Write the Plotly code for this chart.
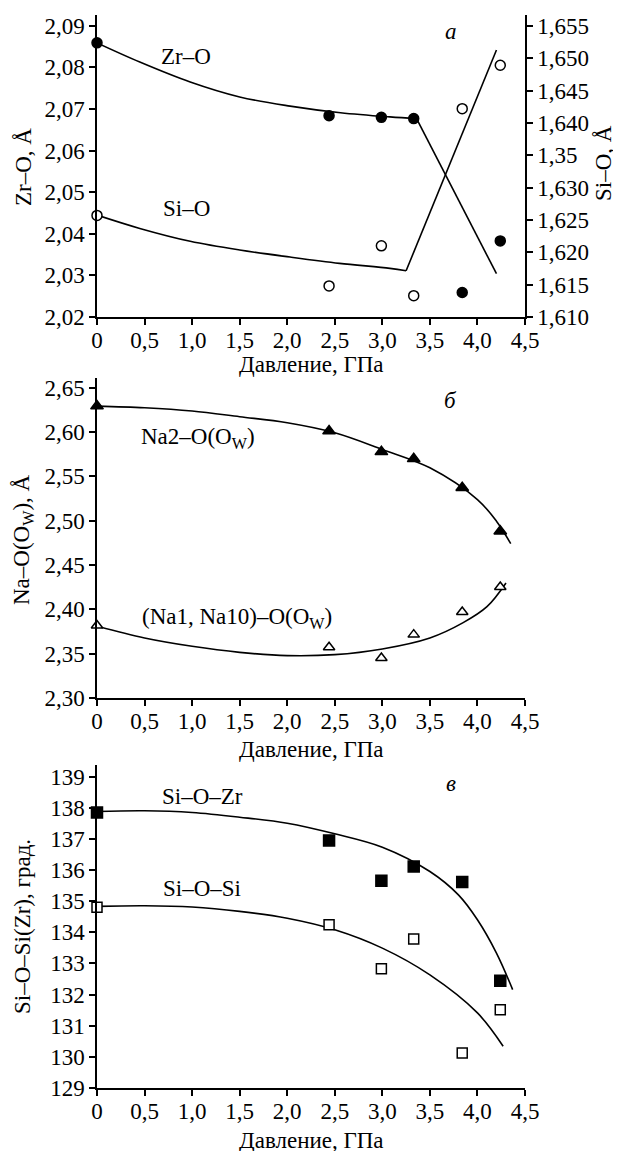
import plotly.graph_objects as go

W, H = 621, 1151
OFF = 8  # page body margin in the browser

# ---------------- data ----------------
pressure = [0, 2.44, 2.99, 3.33, 3.84, 4.24]

# panel a
zr_o = [2.0859, 2.0684, 2.0680, 2.0677, 2.0259, 2.0383]
si_o = [1.6257, 1.6148, 1.6210, 1.6133, 1.6422, 1.6489]
zr_curve_x = [0, 0.45, 0.98, 1.5, 2.03, 2.56, 3.08, 3.36]
zr_curve_y = [2.0859, 2.0813, 2.0765, 2.0729, 2.0707, 2.0691, 2.0681, 2.0677]
zr_line_x = [3.36, 4.2]
zr_line_y = [2.0677, 2.0304]
si_curve_x = [0, 0.45, 0.98, 1.5, 2.03, 2.55, 3.08, 3.25]
si_curve_y = [1.62575, 1.62369, 1.62170, 1.62035, 1.61926, 1.61829, 1.61752, 1.61714]
si_line_x = [3.25, 4.2]
si_line_y = [1.61714, 1.65127]

# panel b
na2 = [2.6293, 2.6011, 2.5777, 2.5698, 2.5371, 2.4882]
na1 = [2.3817, 2.3572, 2.3452, 2.3715, 2.3971, 2.4253]
na2_curve_x = [0, 0.5, 1.0, 1.5, 2.0, 2.5, 3.0, 3.5, 4.0, 4.2, 4.35]
na2_curve_y = [2.6293, 2.6274, 2.6237, 2.6173, 2.6105, 2.5992, 2.5804, 2.5597, 2.5239, 2.4995, 2.4742]
na1_curve_x = [0, 0.5, 1.0, 1.5, 2.0, 2.5, 3.0, 3.5, 3.85, 4.1, 4.3]
na1_curve_y = [2.3809, 2.3677, 2.3583, 2.3515, 2.3478, 2.3489, 2.3553, 2.3677, 2.3850, 2.4030, 2.4298]

# panel c
sio_zr = [137.845, 136.947, 135.652, 136.112, 135.61, 132.444]
sio_si = [134.807, 134.24, 132.829, 133.78, 130.123, 131.513]
sozr_curve_x = [0, 0.5, 1.0, 1.5, 2.0, 2.5, 3.0, 3.5, 3.8, 4.0, 4.2, 4.37]
sozr_curve_y = [137.877, 137.9, 137.845, 137.695, 137.5, 137.16, 136.73, 135.95, 135.2, 134.4, 133.33, 132.16]
sosi_curve_x = [0, 0.5, 1.0, 1.5, 2.0, 2.5, 3.0, 3.5, 4.0, 4.27]
sosi_curve_y = [134.83, 134.85, 134.81, 134.67, 134.45, 134.08, 133.49, 132.63, 131.41, 130.34]

x_ticks = [0, 0.5, 1.0, 1.5, 2.0, 2.5, 3.0, 3.5, 4.0, 4.5]
x_ticktext = ["0", "0,5", "1,0", "1,5", "2,0", "2,5", "3,0", "3,5", "4,0", "4,5"]
zr_ticks = [2.02, 2.03, 2.04, 2.05, 2.06, 2.07, 2.08, 2.09]
zr_ticktext = ["2,02", "2,03", "2,04", "2,05", "2,06", "2,07", "2,08", "2,09"]
si_ticks = [1.610, 1.615, 1.620, 1.625, 1.630, 1.635, 1.640, 1.645, 1.650, 1.655]
si_ticktext = ["1,610", "1,615", "1,620", "1,625", "1,630", "1,35", "1,640", "1,645", "1,650", "1,655"]
na_ticks = [2.30, 2.35, 2.40, 2.45, 2.50, 2.55, 2.60, 2.65]
na_ticktext = ["2,30", "2,35", "2,40", "2,45", "2,50", "2,55", "2,60", "2,65"]
ang_ticks = list(range(129, 140))
ang_ticktext = [str(v) for v in ang_ticks]

# ---------------- layout helpers ----------------
FONT = "Liberation Serif"
FS = 23
def px_x(sx):
    return (sx - OFF) / W
def px_y(sy):
    return 1 - (sy - OFF) / H

xdom = [px_x(97), px_x(525)]
dom_a = [px_y(317), px_y(15)]
dom_b = [px_y(698), px_y(378)]
dom_c = [px_y(1088), px_y(765)]

fig = go.Figure()
line = dict(color="black", width=1.6)

def curve(x, y, xa, ya, shape="spline"):
    fig.add_trace(go.Scatter(x=x, y=y, mode="lines", line=dict(line, shape=shape, smoothing=1.0),
                             xaxis=xa, yaxis=ya, showlegend=False, hoverinfo="skip"))

def pts(x, y, xa, ya, symbol, filled, size):
    fig.add_trace(go.Scatter(x=x, y=y, mode="markers", xaxis=xa, yaxis=ya, showlegend=False,
                             cliponaxis=False,
                             marker=dict(symbol=symbol, size=size,
                                         color="black" if filled else "white",
                                         line=dict(color="black", width=1.5))))

# panel a
curve(zr_curve_x, zr_curve_y, "x", "y")
curve(zr_line_x, zr_line_y, "x", "y", "linear")
curve(si_curve_x, si_curve_y, "x", "y2")
curve(si_line_x, si_line_y, "x", "y2", "linear")
pts(pressure, zr_o, "x", "y", "circle", True, 10)
pts(pressure, si_o, "x", "y2", "circle", False, 10)

# panel b
curve(na2_curve_x, na2_curve_y, "x2", "y3")
curve(na1_curve_x, na1_curve_y, "x2", "y3")
pts(pressure, na2, "x2", "y3", "triangle-up", True, 11)
pts(pressure, na1, "x2", "y3", "triangle-up", False, 10)

# panel c
curve(sozr_curve_x, sozr_curve_y, "x3", "y4")
curve(sosi_curve_x, sosi_curve_y, "x3", "y4")
pts(pressure, sio_zr, "x3", "y4", "square", True, 11)
pts(pressure, sio_si, "x3", "y4", "square", False, 10)

tickfont = dict(family=FONT, size=FS, color="black")
def xaxis(anchor):
    return dict(domain=xdom, anchor=anchor, range=[0, 4.5], tickvals=x_ticks, ticktext=x_ticktext,
                showline=True, linecolor="black", linewidth=1.5, ticks="outside", ticklen=6,
                tickwidth=1.5, tickcolor="black", showgrid=False, zeroline=False,
                tickfont=tickfont, automargin=False, ticklabelstandoff=-4)
def yaxis(anchor, dom, rng, tv, tt, side="left", overlaying=None):
    d = dict(domain=dom, anchor=anchor, range=rng, tickvals=tv, ticktext=tt, side=side,
             showline=True, linecolor="black", linewidth=1.5, ticks="outside", ticklen=6,
             tickwidth=1.5, tickcolor="black", showgrid=False, zeroline=False,
             tickfont=tickfont, automargin=False)
    if overlaying:
        d["overlaying"] = overlaying
    return d

zr_range = [2.02, 2.0926]
si_range = [1.610, 1.610 + (zr_range[1] - zr_range[0]) * 0.045 / 0.07]

fig.update_layout(
    width=W, height=H, margin=dict(l=0, r=0, t=0, b=0),
    paper_bgcolor="white", plot_bgcolor="white",
    font=dict(family=FONT, size=FS, color="black"),
    xaxis=xaxis("y"),
    xaxis2=xaxis("y3"),
    xaxis3=xaxis("y4"),
    yaxis=yaxis("x", dom_a, zr_range, zr_ticks, zr_ticktext),
    yaxis2=yaxis("x", dom_a, si_range, si_ticks, si_ticktext, side="right", overlaying="y"),
    yaxis3=yaxis("x2", dom_b, [2.30, 2.661], na_ticks, na_ticktext),
    yaxis4=yaxis("x3", dom_c, [129, 139.37], ang_ticks, ang_ticktext),
)

ann = []
def text(x, y, s, angle=0, size=FS, xanchor="center"):
    ann.append(dict(x=px_x(x), y=px_y(y), xref="paper", yref="paper", text=s, showarrow=False,
                    textangle=angle, xanchor=xanchor, yanchor="middle",
                    font=dict(family=FONT, size=size, color="black")))

# axis titles
for yy in (364, 750, 1140):
    text(311, yy, "Давление, ГПа")
text(23, 167, "Zr–O, Å", -90)
text(603, 163, "Si–O, Å", -90)
text(23, 540, "Na–O(O<sub>W</sub>), Å", -90)
text(23, 927, "Si–O–Si(Zr), град.", -90)

# panel labels
text(451, 32, "<i>а</i>")
text(451, 400, "<i>б</i>")
text(451, 783, "<i>в</i>")
text(186, 56, "Zr–O")
text(186, 208, "Si–O")
text(198, 438, "Na2–O(O<sub>W</sub>)")
text(237, 618, "(Na1, Na10)–O(O<sub>W</sub>)")
text(202, 796, "Si–O–Zr")
text(202, 888, "Si–O–Si")

fig.update_layout(annotations=ann)
fig.write_html("out.html")
